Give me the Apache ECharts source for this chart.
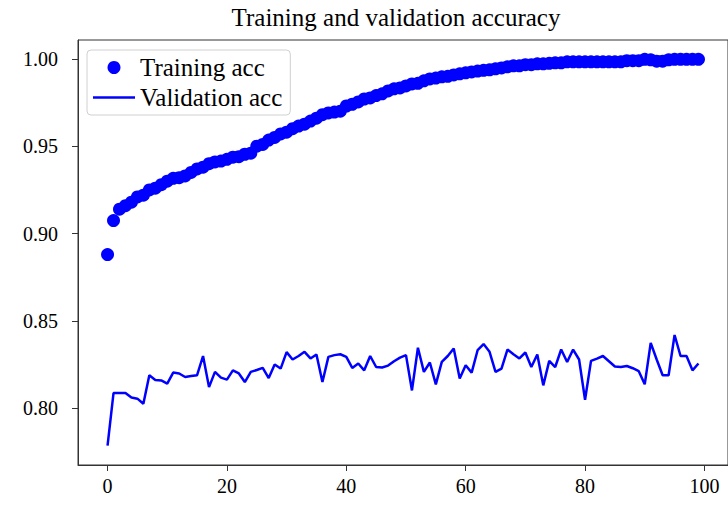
<!DOCTYPE html>
<html>
<head>
<meta charset="utf-8">
<script src="https://cdn.jsdelivr.net/npm/echarts@6/dist/echarts.min.js"></script>
<style>html,body{margin:0;padding:0;background:#fff;}#c{width:728px;height:506px;}</style>
</head>
<body>
<div id="c"></div>
<script>
const titleText = 'Training and validation accuracy';
const seriesNames = ['Training acc', 'Validation acc'];
const xTicks = [0, 20, 40, 60, 80, 100];
const yTicks = [0.80, 0.85, 0.90, 0.95, 1.00];

const trainingAcc = [
  0.8880, 0.9075, 0.9140, 0.9160, 0.9180, 0.9210, 0.9220, 0.9250, 0.9260, 0.9280,
  0.9300, 0.9316, 0.9320, 0.9330, 0.9350, 0.9370, 0.9380, 0.9400, 0.9410, 0.9415,
  0.9425, 0.9437, 0.9440, 0.9454, 0.9460, 0.9500, 0.9510, 0.9535, 0.9550, 0.9570,
  0.9580, 0.9600, 0.9615, 0.9626, 0.9644, 0.9660, 0.9680, 0.9690, 0.9695, 0.9700,
  0.9730, 0.9740, 0.9753, 0.9770, 0.9776, 0.9790, 0.9800, 0.9816, 0.9828, 0.9833,
  0.9845, 0.9856, 0.9860, 0.9874, 0.9885, 0.9890, 0.9897, 0.9900, 0.9908, 0.9914,
  0.9920, 0.9925, 0.9930, 0.9934, 0.9937, 0.9943, 0.9948, 0.9954, 0.9960, 0.9960,
  0.9966, 0.9966, 0.9971, 0.9971, 0.9974, 0.9977, 0.9977, 0.9983, 0.9983, 0.9983,
  0.9983, 0.9983, 0.9983, 0.9983, 0.9983, 0.9983, 0.9983, 0.9989, 0.9989, 0.9989,
  0.9997, 0.9994, 0.9986, 0.9986, 0.9994, 0.9997, 0.9997, 0.9997, 0.9997, 0.9997
];

const validationAcc = [
  0.7787, 0.8088, 0.8088, 0.8088, 0.8062, 0.8056, 0.8027, 0.8190, 0.8163, 0.8160,
  0.8142, 0.8205, 0.8200, 0.8180, 0.8185, 0.8190, 0.8300, 0.8122, 0.8209, 0.8176,
  0.8165, 0.8218, 0.8200, 0.8151, 0.8209, 0.8220, 0.8232, 0.8174, 0.8251, 0.8228,
  0.8322, 0.8280, 0.8300, 0.8324, 0.8286, 0.8309, 0.8151, 0.8295, 0.8305, 0.8310,
  0.8295, 0.8232, 0.8257, 0.8218, 0.8300, 0.8237, 0.8234, 0.8245, 0.8270, 0.8291,
  0.8305, 0.8103, 0.8347, 0.8209, 0.8263, 0.8138, 0.8266, 0.8300, 0.8343, 0.8171,
  0.8247, 0.8205, 0.8333, 0.8368, 0.8324, 0.8209, 0.8228, 0.8337, 0.8310, 0.8286,
  0.8320, 0.8237, 0.8309, 0.8132, 0.8272, 0.8237, 0.8337, 0.8266, 0.8337, 0.8280,
  0.8050, 0.8272, 0.8285, 0.8300, 0.8270, 0.8240, 0.8237, 0.8243, 0.8230, 0.8213,
  0.8138, 0.8375, 0.8280, 0.8190, 0.8190, 0.8420, 0.8300, 0.8300, 0.8218, 0.8257
];

const FONT = '"Liberation Serif", "DejaVu Serif", serif';
const chart = echarts.init(document.getElementById('c'), null, {renderer: 'svg'});
chart.setOption({
  animation: false,
  backgroundColor: '#fff',
  title: {
    text: titleText,
    left: 391, top: 0, textAlign: 'center',
    textStyle: {fontFamily: FONT, fontSize: 25, fontWeight: 'normal', color: '#000'}
  },
  legend: {
    left: 87, top: 50,
    orient: 'vertical',
    itemWidth: 42, itemHeight: 13, itemGap: 5,
    padding: [5, 8, 5, 6],
    borderColor: '#d0d0d0', borderWidth: 1, borderRadius: 4,
    backgroundColor: '#fff',
    textStyle: {fontFamily: FONT, fontSize: 25, color: '#000'},
    data: [
      {name: seriesNames[0], icon: 'circle'},
      {name: seriesNames[1], icon: 'path://M0,0h42v2.5h-42z'}
    ]
  },
  grid: {
    left: 78, top: 40, width: 652.6, height: 425,
    show: true, borderColor: '#333', borderWidth: 1, backgroundColor: 'transparent'
  },
  xAxis: {
    type: 'value', min: -4.95, max: 103.95,
    axisLine: {show: true, onZero: false, lineStyle: {color: '#333', width: 1}},
    axisTick: {show: true, length: 6, customValues: xTicks, lineStyle: {color: '#333'}},
    axisLabel: {customValues: xTicks, margin: 11, fontFamily: FONT, fontSize: 20, color: '#000'},
    splitLine: {show: false}
  },
  yAxis: {
    type: 'value', min: 0.76765, max: 1.01075,
    axisLine: {show: true, onZero: false, lineStyle: {color: '#333', width: 1}},
    axisTick: {show: true, length: 6, customValues: yTicks, lineStyle: {color: '#333'}},
    axisLabel: {customValues: yTicks, margin: 20, fontFamily: FONT, fontSize: 20, color: '#000',
      formatter: v => v.toFixed(2)},
    splitLine: {show: false}
  },
  series: [
    {
      name: seriesNames[0], type: 'scatter',
      symbol: 'circle', symbolSize: 13,
      itemStyle: {color: '#0000ff', opacity: 1},
      data: trainingAcc.map((v, i) => [i, v])
    },
    {
      name: seriesNames[1], type: 'line',
      symbol: 'none', showSymbol: false,
      lineStyle: {color: '#0000ff', width: 2.5},
      itemStyle: {color: '#0000ff'},
      data: validationAcc.map((v, i) => [i, v])
    }
  ]
});
</script>
</body>
</html>
